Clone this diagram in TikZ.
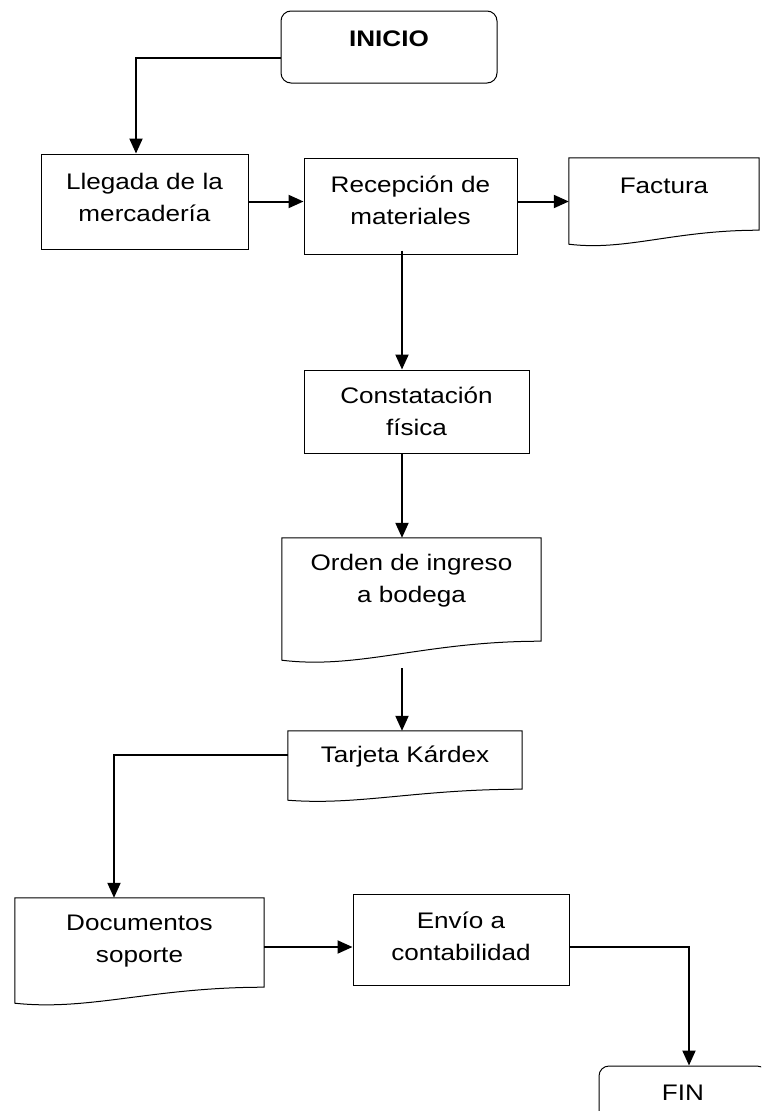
\documentclass[tikz,border=0pt]{standalone}
\usepackage{fontspec}
\setmainfont{Liberation Sans}[FakeStretch=1.16]
\usetikzlibrary{arrows.meta,calc}

% outline of a document symbol: flat top, wavy bottom lower on the left
\newcommand\docoutline[2]{%
  \draw[doc] let \p1=(#1.south west), \p2=(#1.south east) in
    (#1.north west) -- (#1.north east) -- (\p2)
    .. controls ({\x1+0.55*(\x2-\x1)},{\y2}) and ({\x1+0.3*(\x2-\x1)},{\y1-1.5*#2pt})
    .. ({\x1},{\y1-#2pt}) -- cycle;}

\begin{document}
\begin{tikzpicture}[x=1pt,y=-1pt,
  box/.style={draw, line width=1pt, inner sep=0pt},
  docbox/.style={inner sep=0pt},
  doc/.style={line width=1pt, line join=miter},
  lbl/.style={align=center, inner sep=0pt, font=\fontsize{22.5}{32}\selectfont},
  flow/.style={line width=2pt, -{Triangle[length=15pt,width=13pt]}}]

\useasboundingbox (0,0) rectangle (761,1111);
\clip (0,0) rectangle (761,1111);

% terminals and process boxes
\node[box, rounded corners=10pt, minimum width=216pt, minimum height=72pt] (inicio) at (389,47) {};
\node[box, minimum width=207pt, minimum height=95pt] (llegada) at (144.5,201.5) {};
\node[box, minimum width=213pt, minimum height=96pt] (recepcion) at (410.5,206) {};
\node[box, minimum width=225pt, minimum height=83pt] (constatacion) at (416.5,411.5) {};
\node[box, minimum width=216pt, minimum height=91pt] (envio) at (461,939.5) {};
\node[box, rounded corners=10pt, minimum width=168pt, minimum height=70pt] (fin) at (683,1101) {};

% documents
\node[docbox, minimum width=190pt, minimum height=72pt] (factura) at (664,194) {};
\node[docbox, minimum width=259pt, minimum height=103pt] (orden) at (411.5,589.5) {};
\node[docbox, minimum width=234pt, minimum height=58pt] (tarjeta) at (405,760) {};
\node[docbox, minimum width=249pt, minimum height=89pt] (documentos) at (139.5,942.5) {};
\docoutline{factura}{14}
\docoutline{orden}{19}
\docoutline{tarjeta}{11}
\docoutline{documentos}{16}

% texts
\node[lbl, font=\fontsize{22.5}{32}\selectfont\bfseries] (t-inicio) at (389,39) {INICIO};
\node[lbl] (t-llegada) at (144.5,197) {Llegada de la\\mercadería};
\node[lbl] (t-recepcion) at (410.5,200.5) {Recepción de\\materiales};
\node[lbl] (t-factura) at (664,186) {Factura};
\node[lbl] (t-constatacion) at (416.5,411.5) {Constatación\\física};
\node[lbl] (t-orden) at (411.5,581) {Orden de ingreso\\a bodega};
\node[lbl] (t-tarjeta) at (405,757) {Tarjeta Kárdex};
\node[lbl] (t-documentos) at (139.5,941.5) {Documentos\\soporte};
\node[lbl] (t-envio) at (461,936.5) {Envío a\\contabilidad};
\node[lbl] (t-fin) at (683,1093) {FIN};

% connectors
\coordinate (axis) at (402,0);
\draw[flow] ($(inicio.west)+(0,11)$) -| ($(llegada.north)+(-8.5,0)$);
\draw[flow] (llegada.east) -- (llegada.east -| recepcion.west);
\draw[flow] (recepcion.east |- llegada.east) -- (llegada.east -| factura.west);
\draw[flow] ($(axis |- recepcion.south)+(0,-4)$) -- (axis |- constatacion.north);
\draw[flow] (axis |- constatacion.south) -- (axis |- orden.north);
\draw[flow] ($(axis |- orden.south)+(0,27)$) -- (axis |- tarjeta.north);
\draw[flow] ($(tarjeta.west)+(0,-5)$) -| ($(documentos.north)+(-25.5,0)$);
\draw[flow] ($(documentos.east)+(0,4.5)$) -- ($(envio.west)+(0,7.5)$);
\draw[flow] ($(envio.east)+(0,7.5)$) -| ($(fin.north)+(6,0)$);
\end{tikzpicture}
\end{document}
